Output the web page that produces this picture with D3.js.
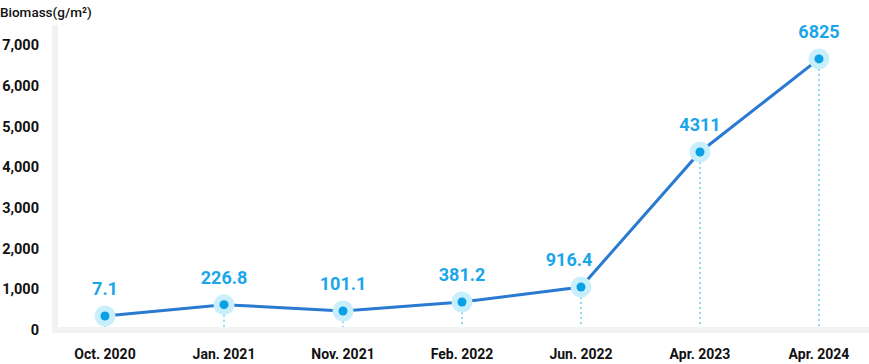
<!DOCTYPE html>
<html>
<head>
<meta charset="utf-8">
<script src="https://cdn.jsdelivr.net/npm/d3@7"></script>
<style>
  body { margin: 0; background: #fff; }
  text { font-family: Roboto, "Noto Sans", sans-serif; }
</style>
</head>
<body>
<div id="chart"></div>
<script>
// data
var categories = ['Oct. 2020', 'Jan. 2021', 'Nov. 2021', 'Feb. 2022', 'Jun. 2022', 'Apr. 2023', 'Apr. 2024']
var values = [344, 622, 467, 688, 1057, 4373, 6658]   // plotted heights
var labels = ['7.1', '226.8', '101.1', '381.2', '916.4', '4311', '6825']
var yTicks = [0, 1000, 2000, 3000, 4000, 5000, 6000, 7000]

var width = 869
var height = 364

var svg = d3.select('#chart')
    .append('svg')
    .attr('width', width)
    .attr('height', height)

var x = d3.scalePoint()
    .domain(categories)
    .range([105, 819])

var y = d3.scaleLinear()
    .domain([0, 7000])
    .range([330, 45])

// axis bars
svg.append('rect')
    .attr('x', 52).attr('y', 25)
    .attr('width', 6).attr('height', 308)
    .attr('fill', '#f2f2f2')
svg.append('rect')
    .attr('x', 52).attr('y', 327)
    .attr('width', width - 52).attr('height', 6)
    .attr('fill', '#f2f2f2')

// y tick labels
svg.selectAll('.ytick')
    .data(yTicks)
    .enter()
    .append('text')
    .attr('x', 39)
    .attr('y', function (d) { return y(d) })
    .attr('dy', '0.35em')
    .attr('text-anchor', 'end')
    .attr('font-size', 14.5)
    .attr('font-weight', 700)
    .attr('fill', '#111')
    .text(function (d) { return d3.format(',')(d) })

// unit
svg.append('text')
    .attr('x', 0).attr('y', 17)
    .attr('font-size', 13.5)
    .attr('font-weight', 500)
    .attr('fill', '#111')
    .text('Biomass(g/m²)')

// x labels
svg.selectAll('.xtick')
    .data(categories)
    .enter()
    .append('text')
    .attr('x', function (d) { return x(d) })
    .attr('y', 359)
    .attr('text-anchor', 'middle')
    .attr('font-size', 14)
    .attr('font-weight', 700)
    .attr('fill', '#111')
    .text(function (d) { return d })

// dotted drop lines
svg.selectAll('.drop')
    .data(values)
    .enter()
    .append('line')
    .attr('x1', function (d, i) { return x(categories[i]) })
    .attr('x2', function (d, i) { return x(categories[i]) })
    .attr('y1', function (d) { return y(d) })
    .attr('y2', 327)
    .attr('stroke', '#8fd8f5')
    .attr('stroke-width', 2)
    .attr('stroke-dasharray', '2,3')

// line
var line = d3.line()
    .x(function (d, i) { return x(categories[i]) })
    .y(function (d) { return y(d) })

svg.append('path')
    .datum(values)
    .attr('d', line)
    .attr('fill', 'none')
    .attr('stroke', '#2a7ad2')
    .attr('stroke-width', 3)

// points
var pts = svg.selectAll('.pt')
    .data(values)
    .enter()
    .append('g')
    .attr('transform', function (d, i) { return 'translate(' + x(categories[i]) + ',' + y(d) + ')' })

pts.append('circle')
    .attr('r', 10.5)
    .attr('fill', '#c9effc')
pts.append('circle')
    .attr('r', 4.5)
    .attr('fill', '#0aa0e6')

// value labels (the Jun. 2022 one sits left of the rising line)
pts.append('text')
    .attr('x', function (d, i) { return i == 4 ? -12 : 0 })
    .attr('y', -21)
    .attr('text-anchor', 'middle')
    .attr('font-size', 18)
    .attr('font-weight', 700)
    .attr('fill', '#1ba5ea')
    .text(function (d, i) { return labels[i] })
</script>
</body>
</html>
